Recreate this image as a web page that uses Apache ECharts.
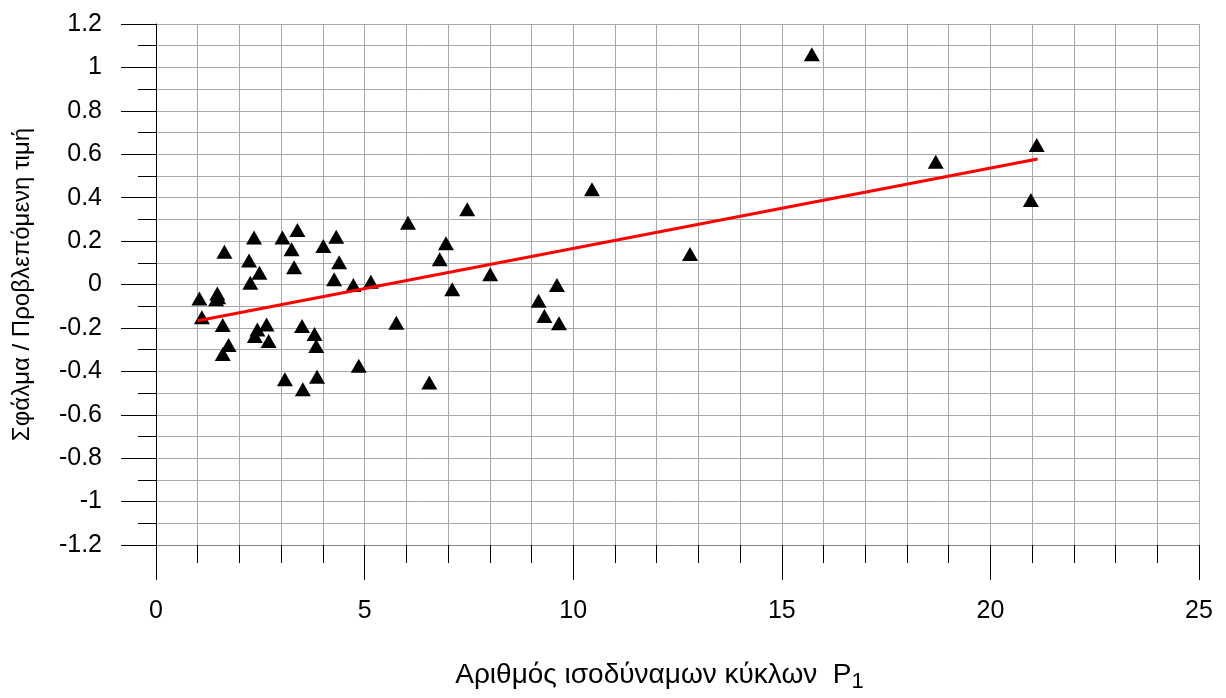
<!DOCTYPE html>
<html>
<head>
<meta charset="utf-8">
<script src="https://cdn.jsdelivr.net/npm/echarts@6/dist/echarts.min.js"></script>
<style>
  body { margin: 0; background: #fff; }
  .box { width: 1226px; height: 698px; }
</style>
</head>
<body>
<div class="box" id="chartDom"></div>
<script>
// cycles P1 (x) and relative error (y)
const pointsX = [1.04, 1.10, 1.47, 1.44, 1.49, 1.60, 1.74, 1.60, 1.64,
  2.35, 2.23, 2.48, 2.26, 2.43, 2.37, 2.65, 2.70,
  3.03, 3.39, 3.25, 3.31, 4.01, 4.32, 4.39, 4.27, 4.73, 5.15,
  3.50, 3.80, 3.84, 4.86, 3.09, 3.86, 3.52,
  7.46, 6.04, 6.95, 6.80, 8.01, 7.10, 5.76, 6.55,
  10.45, 9.61, 9.17, 9.31, 9.66,
  12.80, 15.72, 18.69, 21.11, 20.97]
const pointsY = [-0.064, -0.151, -0.041, -0.068, -0.059, -0.187, -0.279, -0.32, 0.151,
  0.217, 0.110, 0.054, 0.008, -0.207, -0.237, -0.184, -0.260,
  0.217, 0.251, 0.162, 0.079, 0.177, 0.220, 0.102, 0.024, -0.002, 0.013,
  -0.191, -0.228, -0.283, -0.374, -0.437, -0.425, -0.482,
  0.347, 0.285, 0.190, 0.116, 0.047, -0.022, -0.176, -0.451,
  0.439, -0.002, -0.075, -0.145, -0.179,
  0.141, 1.061, 0.566, 0.643, 0.389]

// trend line end points
const trendX = [1.0, 21.13]
const trendY = [-0.167, 0.578]

const xName = 'Αριθμός ισοδύναμων κύκλων  P{sub|1}'
const yName = 'Σφάλμα / Προβλεπόμενη τιμή'

const font = 'Liberation Sans, Arial, sans-serif'
const gridColor = '#a8a8a8'

const scatterData = pointsX.map((x, i) => [x, pointsY[i]])
const trendData = trendX.map((x, i) => [x, trendY[i]])

const option = {
  animation: false,
  grid: { left: 156, right: 27, top: 24, bottom: 153 },
  xAxis: {
    type: 'value',
    min: 0,
    max: 25,
    interval: 5,
    name: xName,
    nameLocation: 'middle',
    nameGap: 112,
    nameTextStyle: {
      fontFamily: font, fontSize: 28, color: '#000',
      padding: [0, 36, 0, 0],
      rich: { sub: { fontFamily: font, fontSize: 22, color: '#000', padding: [14, 0, 0, 0] } }
    },
    axisLine: { show: true, onZero: false, lineStyle: { color: '#888', width: 1 } },
    axisTick: { show: true, length: 35, lineStyle: { color: '#000' } },
    minorTick: { show: true, splitNumber: 5, length: 18, lineStyle: { color: '#000' } },
    axisLabel: { margin: 54, fontFamily: font, fontSize: 25, color: '#000' },
    splitLine: { show: true, lineStyle: { color: gridColor } },
    minorSplitLine: { show: true, lineStyle: { color: gridColor } }
  },
  yAxis: {
    type: 'value',
    min: -1.2,
    max: 1.2,
    interval: 0.2,
    name: yName,
    nameLocation: 'middle',
    nameRotate: 90,
    nameGap: 122,
    nameTextStyle: { fontFamily: font, fontSize: 24, color: '#000' },
    axisLine: { show: true, onZero: false, lineStyle: { color: '#000', width: 1 } },
    axisTick: { show: true, length: 35, lineStyle: { color: '#000' } },
    minorTick: { show: true, splitNumber: 2, length: 18, lineStyle: { color: '#000' } },
    axisLabel: {
      margin: 54, fontFamily: font, fontSize: 25, color: '#000',
      formatter: function (v) {
        const r = Math.round(v * 10) / 10
        return r === 0 ? '0' : String(r)
      }
    },
    splitLine: { show: true, lineStyle: { color: gridColor } },
    minorSplitLine: { show: true, lineStyle: { color: gridColor } }
  },
  series: [
    {
      type: 'scatter',
      symbol: 'triangle',
      symbolSize: [16, 14],
      itemStyle: { color: '#000', opacity: 1 },
      data: scatterData,
      z: 2
    },
    {
      type: 'line',
      data: trendData,
      showSymbol: false,
      lineStyle: { color: '#ff0000', width: 3 },
      z: 3
    }
  ]
}

const myChart = echarts.init(document.getElementById('chartDom'))
myChart.setOption(option)
</script>
</body>
</html>
